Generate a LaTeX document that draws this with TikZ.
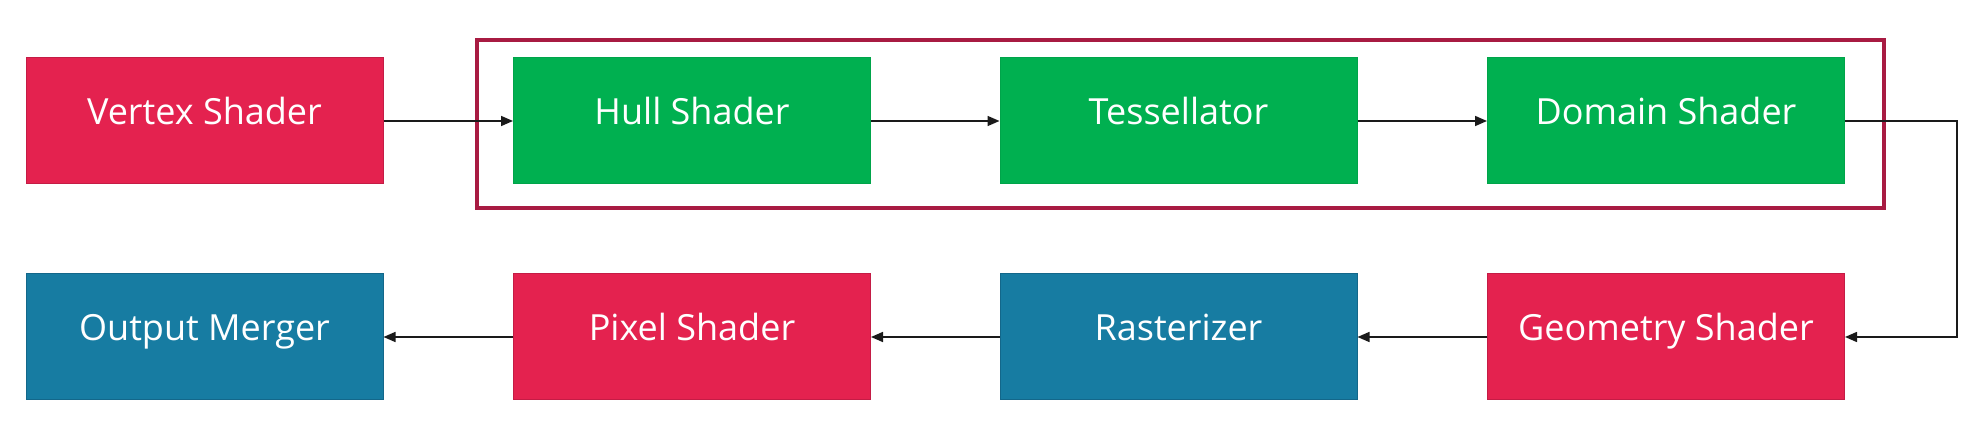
\documentclass[tikz,border=0pt]{standalone}
\usepackage{fontspec}
\setmainfont{Open Sans}
\usetikzlibrary{arrows.meta}
\definecolor{boxred}{HTML}{E4224F}
\definecolor{boxredline}{HTML}{C41C45}
\definecolor{boxgreen}{HTML}{00B050}
\definecolor{boxgreenline}{HTML}{00A44A}
\definecolor{boxblue}{HTML}{177CA2}
\definecolor{boxblueline}{HTML}{13678A}
\definecolor{framered}{HTML}{A81B42}
\definecolor{conn}{HTML}{1A1A1A}
\begin{document}
\begin{tikzpicture}[x=1pt,y=1pt,
  stage/.style={rectangle, minimum width=357pt, minimum height=126pt, inner sep=0pt,
    line width=1pt, text=white, text height=20pt, text depth=13pt,
    font=\fontsize{36}{40}\selectfont},
  redstage/.style={stage, fill=boxred, draw=boxredline},
  greenstage/.style={stage, fill=boxgreen, draw=boxgreenline},
  bluestage/.style={stage, fill=boxblue, draw=boxblueline},
  groupframe/.style={rectangle, draw=framered, line width=4.5pt, minimum width=1407pt, minimum height=168pt, inner sep=0pt},
  arr/.style={draw=conn, line width=1.6pt, -{Triangle[length=12pt,width=10pt]}}
]
\useasboundingbox (0,0) rectangle (1971,439);
\fill[white] (0,0) rectangle (1971,439);

\node[groupframe] (frame) at (1180.5,315) {};

\node[redstage]   (vertex) at (204.5,318) {Vertex Shader};
\node[greenstage] (hull)   at (692,318)   {Hull Shader};
\node[greenstage] (tess)   at (1178.5,318) {Tessellator};
\node[greenstage] (domain) at (1666,318)  {Domain Shader};

\node[bluestage]  (output) at (204.5,102) {Output Merger};
\node[redstage]   (pixel)  at (692,102)   {Pixel Shader};
\node[bluestage]  (rast)   at (1178.5,102) {Rasterizer};
\node[redstage]   (geom)   at (1666,102)  {Geometry Shader};

\draw[arr] (vertex.east) -- (hull.west);
\draw[arr] (hull.east) -- (tess.west);
\draw[arr] (tess.east) -- (domain.west);
\draw[arr] (domain.east) -- ([xshift=112pt]domain.east) |- (geom.east);
\draw[arr] (geom.west) -- (rast.east);
\draw[arr] (rast.west) -- (pixel.east);
\draw[arr] (pixel.west) -- (output.east);
\end{tikzpicture}
\end{document}
